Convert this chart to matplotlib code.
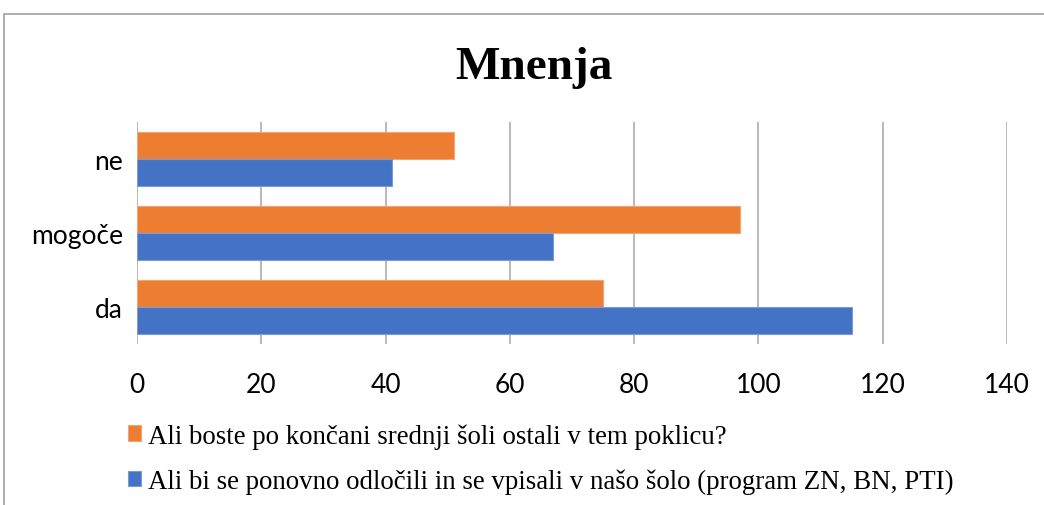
import numpy as np
import matplotlib
matplotlib.use("Agg")
from matplotlib import pyplot as plt
from matplotlib.patches import Rectangle

# Data
categories = ["da", "mogoče", "ne"]
ostali = [75, 97, 51]      # orange series
vpisali = [115, 67, 41]    # blue series
label_ostali = "Ali boste po končani srednji šoli ostali v tem poklicu?"
label_vpisali = "Ali bi se ponovno odločili in se vpisali v našo šolo (program ZN, BN, PTI)"
xticks = [0, 20, 40, 60, 80, 100, 120, 140]

orange = "#ED7D31"
blue = "#4472C4"
W, H = 1044, 506

fig = plt.figure(figsize=(W / 100, H / 100), dpi=100)

# outer chart border (cropped at right/bottom)
fig.patches.append(Rectangle((4 / W, -0.1), 1.2, 1 - 15 / H + 0.1, transform=fig.transFigure,
                             fill=False, edgecolor="#A0A0A0", linewidth=1.2))

ax = fig.add_axes([137 / W, 1 - 345 / H, (1007 - 137) / W, (345 - 123) / H])

y = np.arange(len(categories))
h = 0.365
ax.barh(y + h / 2, ostali, height=h, color=orange, edgecolor="#F4A372", linewidth=0.8,
        label=label_ostali, zorder=3)
ax.barh(y - h / 2, vpisali, height=h, color=blue, edgecolor="#7C9BD6", linewidth=0.8,
        label=label_vpisali, zorder=3)

ax.set_xlim(0, 140)
ax.set_ylim(-0.5, 2.5)
ax.set_xticks(xticks)
ax.set_yticks(y)
ax.set_yticklabels(categories)
ax.grid(axis="x", color="#A6A6A6", linewidth=1.1, zorder=0)
for s in ["top", "right", "bottom", "left"]:
    ax.spines[s].set_visible(False)
ax.tick_params(axis="both", length=0, labelsize=19, labelcolor="black")
ax.tick_params(axis="x", pad=20)
ax.tick_params(axis="y", pad=10)
for lab in ax.get_xticklabels() + ax.get_yticklabels():
    lab.set_family("Lato")

fig.text(534 / W, 1 - 68 / H, "Mnenja", ha="center", va="center",
         family="Liberation Serif", fontweight="bold", fontsize=34)

handles, labels = ax.get_legend_handles_labels()
fig.legend(handles, labels, loc="upper left", bbox_to_anchor=(128 / W, 1 - 424 / H),
           frameon=False, prop={"family": "Liberation Serif", "size": 19.4},
           handlelength=0.5, handleheight=0.5, handletextpad=0.25, labelspacing=0.75,
           borderaxespad=0, borderpad=0)

fig.savefig("out.png", dpi=100)
